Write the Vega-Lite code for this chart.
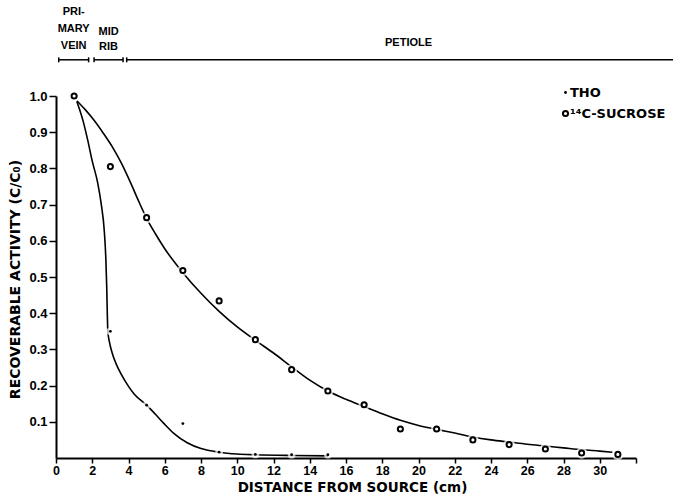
{
  "$schema": "https://vega.github.io/schema/vega-lite/v6.json",
  "width": 580,
  "height": 362,
  "autosize": {"type": "none"},
  "padding": {"left": 56, "top": 96, "right": 37, "bottom": 37},
  "background": "white",
  "config": {
    "view": {"stroke": null},
    "axis": {
      "domainColor": "black", "tickColor": "black", "labelColor": "black", "titleColor": "black",
      "labelFont": "Liberation Sans", "labelFontWeight": "bold", "labelFontSize": 13,
      "titleFont": "DejaVu Sans", "titleFontWeight": "bold", "titleFontSize": 14,
      "grid": false, "zindex": 1, "domainWidth": 2, "tickWidth": 1.5
    },
    "legend": {
      "orient": "none", "legendX": 503, "legendY": -10, "title": null,
      "labelFont": "DejaVu Sans", "labelFontWeight": "bold", "labelFontSize": 13, "labelColor": "black",
      "labelOffset": -2, "rowPadding": 6, "padding": 0
    }
  },
  "datasets": {
    "obs": [
      {"series": "THO", "distance": 1, "activity": 1.0},
      {"series": "THO", "distance": 3, "activity": 0.35},
      {"series": "THO", "distance": 5, "activity": 0.146},
      {"series": "THO", "distance": 7, "activity": 0.095},
      {"series": "THO", "distance": 9, "activity": 0.016},
      {"series": "THO", "distance": 11, "activity": 0.010},
      {"series": "THO", "distance": 13, "activity": 0.009},
      {"series": "THO", "distance": 15, "activity": 0.009},
      {"series": "¹⁴C-SUCROSE", "distance": 1, "activity": 1.0},
      {"series": "¹⁴C-SUCROSE", "distance": 3, "activity": 0.805},
      {"series": "¹⁴C-SUCROSE", "distance": 5, "activity": 0.664},
      {"series": "¹⁴C-SUCROSE", "distance": 7, "activity": 0.518},
      {"series": "¹⁴C-SUCROSE", "distance": 9, "activity": 0.434},
      {"series": "¹⁴C-SUCROSE", "distance": 11, "activity": 0.327},
      {"series": "¹⁴C-SUCROSE", "distance": 13, "activity": 0.244},
      {"series": "¹⁴C-SUCROSE", "distance": 15, "activity": 0.185},
      {"series": "¹⁴C-SUCROSE", "distance": 17, "activity": 0.147},
      {"series": "¹⁴C-SUCROSE", "distance": 19, "activity": 0.080},
      {"series": "¹⁴C-SUCROSE", "distance": 21, "activity": 0.080},
      {"series": "¹⁴C-SUCROSE", "distance": 23, "activity": 0.050},
      {"series": "¹⁴C-SUCROSE", "distance": 25, "activity": 0.037},
      {"series": "¹⁴C-SUCROSE", "distance": 27, "activity": 0.025},
      {"series": "¹⁴C-SUCROSE", "distance": 29, "activity": 0.014},
      {"series": "¹⁴C-SUCROSE", "distance": 31, "activity": 0.010}
    ],
    "curves": [
      {"series": "THO", "distance": 1.15, "activity": 0.985},
      {"series": "THO", "distance": 1.5, "activity": 0.93},
      {"series": "THO", "distance": 1.75, "activity": 0.878},
      {"series": "THO", "distance": 2.0, "activity": 0.82},
      {"series": "THO", "distance": 2.3, "activity": 0.76},
      {"series": "THO", "distance": 2.5, "activity": 0.70},
      {"series": "THO", "distance": 2.66, "activity": 0.63},
      {"series": "THO", "distance": 2.75, "activity": 0.55},
      {"series": "THO", "distance": 2.8, "activity": 0.47},
      {"series": "THO", "distance": 2.83, "activity": 0.40},
      {"series": "THO", "distance": 2.86, "activity": 0.35},
      {"series": "THO", "distance": 2.95, "activity": 0.32},
      {"series": "THO", "distance": 3.1, "activity": 0.29},
      {"series": "THO", "distance": 3.3, "activity": 0.262},
      {"series": "THO", "distance": 3.58, "activity": 0.233},
      {"series": "THO", "distance": 4.0, "activity": 0.198},
      {"series": "THO", "distance": 4.31, "activity": 0.177},
      {"series": "THO", "distance": 5.0, "activity": 0.146},
      {"series": "THO", "distance": 5.5, "activity": 0.12},
      {"series": "THO", "distance": 5.96, "activity": 0.095},
      {"series": "THO", "distance": 6.5, "activity": 0.068},
      {"series": "THO", "distance": 7.24, "activity": 0.042},
      {"series": "THO", "distance": 8.0, "activity": 0.026},
      {"series": "THO", "distance": 9.0, "activity": 0.016},
      {"series": "THO", "distance": 10.0, "activity": 0.011},
      {"series": "THO", "distance": 11.0, "activity": 0.009},
      {"series": "THO", "distance": 13.0, "activity": 0.007},
      {"series": "THO", "distance": 15.0, "activity": 0.006},
      {"series": "¹⁴C-SUCROSE", "distance": 1.15, "activity": 0.987},
      {"series": "¹⁴C-SUCROSE", "distance": 1.6, "activity": 0.963},
      {"series": "¹⁴C-SUCROSE", "distance": 2.1, "activity": 0.933},
      {"series": "¹⁴C-SUCROSE", "distance": 2.6, "activity": 0.898},
      {"series": "¹⁴C-SUCROSE", "distance": 3.1, "activity": 0.860},
      {"series": "¹⁴C-SUCROSE", "distance": 3.6, "activity": 0.815},
      {"series": "¹⁴C-SUCROSE", "distance": 4.1, "activity": 0.762},
      {"series": "¹⁴C-SUCROSE", "distance": 4.6, "activity": 0.705},
      {"series": "¹⁴C-SUCROSE", "distance": 5.0, "activity": 0.662},
      {"series": "¹⁴C-SUCROSE", "distance": 5.5, "activity": 0.618},
      {"series": "¹⁴C-SUCROSE", "distance": 6.0, "activity": 0.578},
      {"series": "¹⁴C-SUCROSE", "distance": 7.0, "activity": 0.512},
      {"series": "¹⁴C-SUCROSE", "distance": 8.0, "activity": 0.455},
      {"series": "¹⁴C-SUCROSE", "distance": 9.0, "activity": 0.405},
      {"series": "¹⁴C-SUCROSE", "distance": 10.0, "activity": 0.362},
      {"series": "¹⁴C-SUCROSE", "distance": 11.0, "activity": 0.325},
      {"series": "¹⁴C-SUCROSE", "distance": 12.0, "activity": 0.29},
      {"series": "¹⁴C-SUCROSE", "distance": 13.0, "activity": 0.252},
      {"series": "¹⁴C-SUCROSE", "distance": 14.0, "activity": 0.215},
      {"series": "¹⁴C-SUCROSE", "distance": 15.0, "activity": 0.185},
      {"series": "¹⁴C-SUCROSE", "distance": 16.0, "activity": 0.162},
      {"series": "¹⁴C-SUCROSE", "distance": 17.0, "activity": 0.142},
      {"series": "¹⁴C-SUCROSE", "distance": 18.0, "activity": 0.122},
      {"series": "¹⁴C-SUCROSE", "distance": 19.0, "activity": 0.104},
      {"series": "¹⁴C-SUCROSE", "distance": 20.0, "activity": 0.09},
      {"series": "¹⁴C-SUCROSE", "distance": 21.0, "activity": 0.079},
      {"series": "¹⁴C-SUCROSE", "distance": 22.0, "activity": 0.069},
      {"series": "¹⁴C-SUCROSE", "distance": 23.0, "activity": 0.058},
      {"series": "¹⁴C-SUCROSE", "distance": 24.0, "activity": 0.050},
      {"series": "¹⁴C-SUCROSE", "distance": 25.0, "activity": 0.044},
      {"series": "¹⁴C-SUCROSE", "distance": 26.0, "activity": 0.038},
      {"series": "¹⁴C-SUCROSE", "distance": 27.0, "activity": 0.033},
      {"series": "¹⁴C-SUCROSE", "distance": 28.0, "activity": 0.028},
      {"series": "¹⁴C-SUCROSE", "distance": 29.0, "activity": 0.023},
      {"series": "¹⁴C-SUCROSE", "distance": 30.0, "activity": 0.019},
      {"series": "¹⁴C-SUCROSE", "distance": 30.7, "activity": 0.016}
    ],
    "regions": [
      {"region": "PRIMARY VEIN", "label": ["PRI-", "MARY", "VEIN"], "start": 0.15, "end": 1.8},
      {"region": "MIDRIB", "label": ["MID", "RIB"], "start": 2.1, "end": 3.7},
      {"region": "PETIOLE", "label": "PETIOLE", "start": 3.9, "end": 35}
    ]
  },
  "encoding": {
    "x": {"type": "quantitative", "scale": {"domain": [0, 32], "nice": false},
      "axis": {"title": "DISTANCE FROM SOURCE (cm)", "values": [0,2,4,6,8,10,12,14,16,18,20,22,24,26,28,30,32],
        "labelExpr": "datum.value == 32 ? '' : datum.label", "tickSize": 5, "labelPadding": 1, "labelFontSize": 12.5,
        "titleFontSize": 13.5, "titleBaseline": "alphabetic", "titleX": 296, "titleY": 33.5,
        "labelFlush": false, "labelOverlap": false}},
    "y": {"type": "quantitative", "scale": {"domain": [0, 1], "nice": false},
      "axis": {"title": "RECOVERABLE ACTIVITY (C/C₀)", "values": [0.1,0.2,0.3,0.4,0.5,0.6,0.7,0.8,0.9,1.0],
        "format": ".1f", "tickSize": 7, "labelPadding": 2, "titlePadding": 6, "titleY": 183,
        "labelFlush": false, "labelOverlap": false}}
  },
  "layer": [
    {
      "data": {"name": "curves"},
      "mark": {"type": "line", "interpolate": "monotone", "stroke": "black", "strokeWidth": 1.6},
      "encoding": {
        "x": {"field": "distance"},
        "y": {"field": "activity"},
        "detail": {"field": "series"}
      }
    },
    {
      "data": {"name": "obs"},
      "mark": {"type": "point", "shape": "circle", "filled": true, "fill": "white", "stroke": null},
      "encoding": {
        "x": {"field": "distance"},
        "y": {"field": "activity"},
        "size": {"condition": {"test": "datum.series === 'THO'", "value": 60}, "value": 130}
      }
    },
    {
      "data": {"name": "obs"},
      "mark": {"type": "point", "shape": "circle", "stroke": "black", "opacity": 1},
      "encoding": {
        "x": {"field": "distance"},
        "y": {"field": "activity"},
        "fill": {"field": "series", "type": "nominal", "scale": {"domain": ["THO", "¹⁴C-SUCROSE"], "range": ["black", "white"]}},
        "size": {"field": "series", "type": "nominal", "scale": {"domain": ["THO", "¹⁴C-SUCROSE"], "range": [8, 26]}},
        "strokeWidth": {"field": "series", "type": "nominal", "scale": {"domain": ["THO", "¹⁴C-SUCROSE"], "range": [0, 2]}}
      }
    },
    {
      "data": {"name": "regions"},
      "mark": {"type": "rule", "stroke": "black", "strokeWidth": 1.5},
      "encoding": {
        "x": {"field": "start"},
        "x2": {"field": "end"},
        "y": {"datum": 1.1}
      }
    },
    {
      "data": {"name": "regions"},
      "mark": {"type": "tick", "orient": "vertical", "size": 5, "thickness": 1.5, "color": "black", "opacity": 1},
      "encoding": {
        "x": {"field": "start"},
        "y": {"datum": 1.1}
      }
    },
    {
      "data": {"name": "regions"},
      "transform": [{"filter": "datum.end < 32"}],
      "mark": {"type": "tick", "orient": "vertical", "size": 5, "thickness": 1.5, "color": "black", "opacity": 1},
      "encoding": {
        "x": {"field": "end"},
        "y": {"datum": 1.1}
      }
    },
    {
      "data": {"name": "regions"},
      "transform": [{"filter": "datum.region === 'PRIMARY VEIN'"}, {"calculate": "(datum.start + datum.end) / 2", "as": "mid"}],
      "mark": {"type": "text", "align": "center", "baseline": "bottom", "font": "Liberation Sans", "fontWeight": "bold", "fontSize": 11, "lineHeight": 16.7, "color": "black"},
      "encoding": {
        "x": {"field": "mid"},
        "y": {"datum": 1.217},
        "text": {"field": "label"}
      }
    },
    {
      "data": {"name": "regions"},
      "transform": [{"filter": "datum.region === 'MIDRIB'"}, {"calculate": "(datum.start + datum.end) / 2", "as": "mid"}],
      "mark": {"type": "text", "align": "center", "baseline": "bottom", "font": "Liberation Sans", "fontWeight": "bold", "fontSize": 11, "lineHeight": 15, "color": "black"},
      "encoding": {
        "x": {"field": "mid"},
        "y": {"datum": 1.163},
        "text": {"field": "label"}
      }
    },
    {
      "data": {"name": "regions"},
      "transform": [{"filter": "datum.region === 'PETIOLE'"}, {"calculate": "(datum.start + datum.end) / 2", "as": "mid"}],
      "mark": {"type": "text", "align": "center", "baseline": "bottom", "font": "Liberation Sans", "fontWeight": "bold", "fontSize": 11, "color": "black"},
      "encoding": {
        "x": {"field": "mid"},
        "y": {"datum": 1.132},
        "text": {"field": "label"}
      }
    }
  ]
}
